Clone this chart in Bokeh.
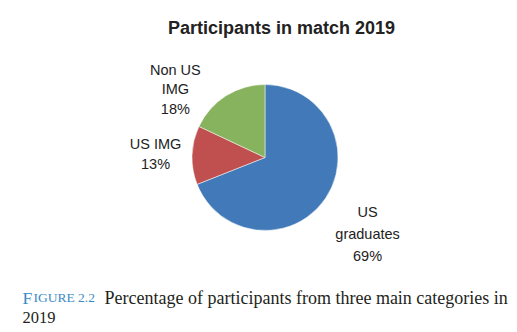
import math
from bokeh.plotting import figure
from bokeh.models import Range1d, ColumnDataSource, Label
from bokeh.embed import file_html
from bokeh.resources import INLINE
from bokeh.core.properties import value

# ---- data ----
categories = ["US graduates", "US IMG", "Non US IMG"]
percentages = [69, 13, 18]
label_texts = ["US\ngraduates\n69%", "US IMG\n13%", "Non US\nIMG\n18%"]
colors = ["#4279B8", "#BF504F", "#88B35E"]
title_text = "Participants in match 2019"
caption_head_big = "F"
caption_head_small = "IGURE 2.2"
caption_line1 = "Percentage of participants from three main categories in"
caption_line2 = "2019"

W, H = 517, 332
p = figure(width=W, height=H, output_backend="svg", toolbar_location=None,
           x_range=Range1d(0, W), y_range=Range1d(0, H), min_border=0)
p.axis.visible = False
p.grid.visible = False
p.outline_line_color = None
p.background_fill_color = "white"
p.border_fill_color = "white"

cx, cy, R = 264.5, H - 157, 73

# wedges clockwise from 12 o'clock
total = float(sum(percentages))
starts, ends, mids = [], [], []
acc = 0.0
for v in percentages:
    a0 = math.pi / 2 - 2 * math.pi * acc / total
    acc += v
    a1 = math.pi / 2 - 2 * math.pi * acc / total
    starts.append(a0)
    ends.append(a1)
    mids.append((a0 + a1) / 2)

src = ColumnDataSource(dict(cat=categories, val=percentages, start=starts, end=ends, color=colors))
p.wedge(x=cx, y=cy, radius=R, start_angle="start", end_angle="end", direction="clock",
        fill_color="color", line_color="white", line_width=0.5, source=src)

# labels positioned radially, with small pixel nudges
label_r = 1.5 * R
nudges = [(12, -15), (0, 0), (-31, -24)]
line_heights = [1.4, 1.22, 1.22]
for txt, m, (ox, oy), lh in zip(label_texts, mids, nudges, line_heights):
    lx = cx + label_r * math.cos(m) + ox
    ly = cy + label_r * math.sin(m) + oy
    p.text(x=[lx], y=[ly], text=[txt], text_align="center", text_baseline="middle",
           text_font=value("Liberation Sans"), text_font_size="14.5px",
           text_color="#222222", text_line_height=lh)

# title
p.add_layout(Label(x=281, y=H - 27, text=title_text, text_align="center",
                   text_baseline="middle", text_font="Liberation Sans",
                   text_font_style="bold", text_font_size="18px", text_color="#222222"))

# caption
cap_blue = "#3A8CC6"
p.add_layout(Label(x=22, y=H - 297, text=caption_head_big, text_baseline="alphabetic",
                   text_font="Liberation Serif", text_font_size="17.5px", text_color=cap_blue))
p.add_layout(Label(x=33, y=H - 297, text=caption_head_small, text_baseline="alphabetic",
                   text_font="Liberation Serif", text_font_size="13.5px", text_color=cap_blue))
p.add_layout(Label(x=104, y=H - 297, text=caption_line1, text_baseline="alphabetic",
                   text_font="Liberation Serif", text_font_size="18px", text_color="#231F20"))
p.add_layout(Label(x=22, y=H - 317, text=caption_line2, text_baseline="alphabetic",
                   text_font="Liberation Serif", text_font_size="16.5px", text_color="#231F20"))

open("out.html", "w").write(file_html(p, INLINE))
